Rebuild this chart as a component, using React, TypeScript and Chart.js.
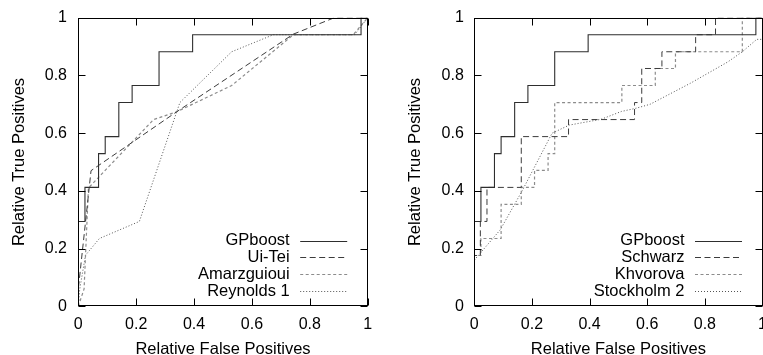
import React, { useEffect, useRef } from "react";
import { Chart, registerables } from "chart.js";

Chart.register(...registerables);

// ---- axis ticks ----
const tickValues = [0, 0.2, 0.4, 0.6, 0.8, 1];
const tickLabels = ["0", "0.2", "0.4", "0.6", "0.8", "1"];
const xTitle = "Relative False Positives";
const yTitle = "Relative True Positives";

// ---- left panel series ----
const gpboostFpr = [0, 0, 0.023, 0.07, 0.093, 0.14, 0.186, 0.279, 0.395, 0.977, 1];
const gpboostTpr = [0, 0.294, 0.412, 0.529, 0.588, 0.706, 0.765, 0.882, 0.941, 1, 1];

const uiteiFpr = [0, 0, 0.044, 0.34, 0.743, 0.885, 1];
const uiteiTpr = [0, 0.06, 0.47, 0.674, 0.943, 1, 1];

const amarzFpr = [0, 0.02, 0.035, 0.26, 0.34, 0.53, 0.743, 0.95, 1];
const amarzTpr = [0, 0.06, 0.41, 0.647, 0.674, 0.765, 0.941, 0.941, 1];

const reynoldsFpr = [0, 0.005, 0.025, 0.073, 0.211, 0.351, 0.53, 0.674, 0.955, 1];
const reynoldsTpr = [0, 0.06, 0.177, 0.235, 0.294, 0.706, 0.882, 0.941, 0.941, 1];

// ---- right panel series ----
const schwarzFpr = [0, 0, 0.021, 0.044, 0.163, 0.327, 0.556, 0.581, 0.651, 0.768, 0.837, 1];
const schwarzTpr = [0, 0.176, 0.294, 0.412, 0.588, 0.647, 0.706, 0.824, 0.882, 0.941, 1, 1];

const khvorovaFpr = [0, 0, 0.023, 0.093, 0.163, 0.209, 0.256, 0.279, 0.512, 0.628, 0.698, 0.93, 1];
const khvorovaTpr = [0, 0.176, 0.235, 0.353, 0.412, 0.471, 0.529, 0.706, 0.765, 0.824, 0.882, 1, 1];

const stockholmFpr = [0, 0.09, 0.166, 0.27, 0.33, 0.44, 0.51, 0.56, 0.61, 0.75, 0.88, 0.93, 0.98, 1];
const stockholmTpr = [0.16, 0.265, 0.4, 0.6, 0.628, 0.648, 0.675, 0.686, 0.7, 0.773, 0.847, 0.882, 0.925, 0.925];

const FONT = '"Liberation Sans", Arial, Helvetica, sans-serif';

type Series = {
  label: string;
  fpr: number[];
  tpr: number[];
  color: string;
  width: number;
  dash: number[];
  stepped: boolean;
};

const STYLE_SOLID = { color: "#2e2e2e", width: 1.1, dash: [] as number[] };
const STYLE_DASH = { color: "#3c3c3c", width: 1, dash: [6, 3.5] };
const STYLE_SHORT = { color: "#8c8c8c", width: 1.2, dash: [3, 2.5] };
const STYLE_DOT = { color: "#555555", width: 1, dash: [1, 2] };

const leftSeries: Series[] = [
  { label: "GPboost", fpr: gpboostFpr, tpr: gpboostTpr, ...STYLE_SOLID, stepped: true },
  { label: "Ui-Tei", fpr: uiteiFpr, tpr: uiteiTpr, ...STYLE_DASH, stepped: false },
  { label: "Amarzguioui", fpr: amarzFpr, tpr: amarzTpr, ...STYLE_SHORT, stepped: false },
  { label: "Reynolds 1", fpr: reynoldsFpr, tpr: reynoldsTpr, ...STYLE_DOT, stepped: false },
];

const rightSeries: Series[] = [
  { label: "GPboost", fpr: gpboostFpr, tpr: gpboostTpr, ...STYLE_SOLID, stepped: true },
  { label: "Schwarz", fpr: schwarzFpr, tpr: schwarzTpr, ...STYLE_DASH, stepped: true },
  { label: "Khvorova", fpr: khvorovaFpr, tpr: khvorovaTpr, ...STYLE_SHORT, stepped: true },
  { label: "Stockholm 2", fpr: stockholmFpr, tpr: stockholmTpr, ...STYLE_DOT, stepped: false },
];

const decorPlugin = {
  id: "decor",
  afterDatasetsDraw(chart: any) {
    const { ctx, chartArea: a, scales } = chart;
    const xs = scales.x;
    const ys = scales.y;
    ctx.save();
    // frame
    const L = Math.round(a.left) + 0.5;
    const R = Math.round(a.right) - 0.5;
    const T = Math.round(a.top) + 0.5;
    const B = Math.round(a.bottom) - 0.5;
    ctx.strokeStyle = "#000";
    ctx.lineWidth = 1;
    ctx.setLineDash([]);
    ctx.strokeRect(L, T, R - L, B - T);
    ctx.beginPath();
    for (const v of tickValues) {
      const px = Math.round(xs.getPixelForValue(v)) + 0.5;
      ctx.moveTo(px, B);
      ctx.lineTo(px, B - 7);
      ctx.moveTo(px, T);
      ctx.lineTo(px, T + 7);
      const py = Math.round(ys.getPixelForValue(v)) + 0.5;
      ctx.moveTo(L, py);
      ctx.lineTo(L + 7, py);
      ctx.moveTo(R, py);
      ctx.lineTo(R - 7, py);
    }
    ctx.stroke();

    // axis titles
    ctx.fillStyle = "#000";
    ctx.font = `16.5px ${FONT}`;
    ctx.textAlign = "center";
    ctx.textBaseline = "alphabetic";
    ctx.fillText(xTitle, (a.left + a.right) / 2, 354);
    ctx.save();
    ctx.translate(a.left - 54, (a.top + a.bottom) / 2);
    ctx.rotate(-Math.PI / 2);
    ctx.fillText(yTitle, 0, 0);
    ctx.restore();

    // legend
    const ds = chart.data.datasets;
    const n = ds.length;
    ds.forEach((d: any, i: number) => {
      const yy = a.bottom - 15.3 - (n - 1 - i) * 16.8;
      ctx.fillStyle = "#000";
      ctx.textAlign = "right";
      ctx.textBaseline = "middle";
      ctx.fillText(d.label, a.right - 78, yy);
      ctx.strokeStyle = d.borderColor;
      ctx.lineWidth = d.borderWidth;
      ctx.setLineDash(d.borderDash || []);
      const ly = Math.round(yy) + 0.5;
      ctx.beginPath();
      ctx.moveTo(a.right - 67.5, ly);
      ctx.lineTo(a.right - 20.5, ly);
      ctx.stroke();
    });
    ctx.restore();
  },
};

function Panel(props: { series: Series[]; width: number; yWidth: number; rightPad: number; labelPad: number }) {
  const ref = useRef<HTMLCanvasElement>(null);
  useEffect(() => {
    if (!ref.current) return;
    const tickFont = { family: FONT, size: 16 };
    const chart = new Chart(ref.current, {
      type: "line",
      data: {
        datasets: props.series.map((s) => ({
          label: s.label,
          data: s.fpr.map((x, i) => ({ x, y: s.tpr[i] })),
          borderColor: s.color,
          borderWidth: s.width,
          borderDash: s.dash,
          pointRadius: 0,
          stepped: s.stepped ? "before" : false,
          tension: 0,
          fill: false,
        })),
      },
      options: {
        responsive: false,
        animation: false,
        devicePixelRatio: 1,
        layout: { padding: { left: 0, right: props.rightPad, top: 17.7, bottom: 0 } },
        plugins: { legend: { display: false }, tooltip: { enabled: false } },
        scales: {
          x: {
            type: "linear",
            min: 0,
            max: 1,
            afterBuildTicks: (s: any) => {
              s.ticks = tickValues.map((v) => ({ value: v }));
            },
            grid: { display: false, drawTicks: false },
            border: { display: false },
            ticks: {
              padding: 9,
              color: "#000",
              font: tickFont,
              maxRotation: 0,
              autoSkip: false,
              callback: (_v: any, i: number) => tickLabels[i],
            },
            afterFit: (s: any) => {
              s.height = 48.7;
              s.paddingLeft = 0;
              s.paddingRight = 0;
            },
          },
          y: {
            type: "linear",
            min: 0,
            max: 1,
            afterBuildTicks: (s: any) => {
              s.ticks = tickValues.map((v) => ({ value: v }));
            },
            grid: { display: false, drawTicks: false },
            border: { display: false },
            ticks: {
              padding: props.labelPad,
              color: "#000",
              font: tickFont,
              autoSkip: false,
              callback: (_v: any, i: number) => tickLabels[i],
            },
            afterFit: (s: any) => {
              s.width = props.yWidth;
              s.paddingTop = 0;
              s.paddingBottom = 0;
            },
          },
        },
      } as any,
      plugins: [decorPlugin],
    });
    return () => chart.destroy();
  }, []);
  return <canvas ref={ref} width={props.width} height={355} style={{ display: "block" }} />;
}

export default function App() {
  return (
    <div style={{ position: "absolute", left: 0, top: 0, width: 763, height: 355, background: "#fff", overflow: "hidden" }}>
      <div style={{ position: "absolute", left: 0, top: 0 }}>
        <Panel series={leftSeries} width={380} yWidth={78.3} rightPad={12.3} labelPad={11.3} />
      </div>
      <div style={{ position: "absolute", left: 380, top: 0 }}>
        <Panel series={rightSeries} width={383} yWidth={94.3} rightPad={0.5} labelPad={10.5} />
      </div>
    </div>
  );
}
